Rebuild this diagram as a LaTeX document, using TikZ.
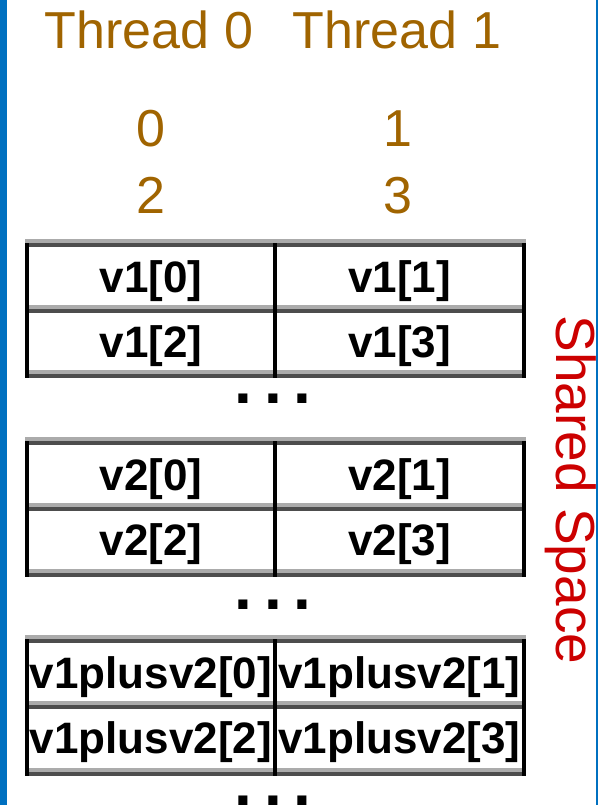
\documentclass[tikz,border=0pt]{standalone}
\usepackage{fontspec}
\setmainfont{Liberation Sans}

\definecolor{thread}{RGB}{160,100,0}
\definecolor{shared}{RGB}{204,0,0}
\definecolor{frame}{RGB}{0,112,192}
\definecolor{ruledark}{RGB}{77,77,77}
\definecolor{rulelight}{RGB}{171,171,171}

\begin{document}
\begin{tikzpicture}[x=1pt,y=-1pt,
  head/.style={text=thread,font=\fontsize{52}{60}\selectfont,anchor=base,inner sep=0pt},
  cell/.style={font=\bfseries\fontsize{44}{50}\selectfont,anchor=base,inner sep=0pt},
  more/.style={font=\bfseries\fontsize{64}{70}\selectfont,anchor=base,inner sep=0pt,
    text height=9pt,text depth=0pt},
  hrule/.style={line width=4pt,draw=ruledark,
    preaction={draw=rulelight,line width=4pt,transform canvas={yshift=4pt}}},
  vrule/.style={line width=4pt,draw=black}]
\useasboundingbox (0,0) rectangle (598,805);
\fill[frame] (0,0) rectangle (7,805);
\fill[frame] (595.5,0) rectangle (598,805);

% thread headers and the indices each thread handles
\node[head] (th0) at (149,49) {Thread 0};
\node[head] (th1) at (397,49) {Thread 1};
\node[head] (n0) at (151,147) {0};
\node[head] (n1) at (398,147) {1};
\node[head] (n2) at (151,213) {2};
\node[head] (n3) at (398,213) {3};

% v1
\draw[hrule] (25,245) -- (526,245) (25,311) -- (526,311) (25,376) -- (526,376);
\draw[vrule] (27,243) -- (27,378) (275,243) -- (275,378) (523.5,243) -- (523.5,378);
\node[cell] (a0) at (151,292) {v1[0]};
\node[cell] (a1) at (399.5,292) {v1[1]};
\node[cell] (a2) at (151,357) {v1[2]};
\node[cell] (a3) at (399.5,357) {v1[3]};
\node[more] (d1) at (273,403) {.\hspace{12pt}.\hspace{12pt}.};

% v2
\draw[hrule] (25,443) -- (526,443) (25,509) -- (526,509) (25,575) -- (526,575);
\draw[vrule] (27,441) -- (27,577) (275,441) -- (275,577) (523.5,441) -- (523.5,577);
\node[cell] (b0) at (151,490) {v2[0]};
\node[cell] (b1) at (399.5,490) {v2[1]};
\node[cell] (b2) at (151,555) {v2[2]};
\node[cell] (b3) at (399.5,555) {v2[3]};
\node[more] (d2) at (273,609) {.\hspace{12pt}.\hspace{12pt}.};

% v1plusv2
\draw[hrule] (25,641) -- (526,641) (25,707) -- (526,707) (25,774) -- (526,774);
\draw[vrule] (27,639) -- (27,776) (275,639) -- (275,776) (523.5,639) -- (523.5,776);
\node[cell] (s0) at (151,688) {v1plusv2[0]};
\node[cell] (s1) at (399.5,688) {v1plusv2[1]};
\node[cell] (s2) at (151,753) {v1plusv2[2]};
\node[cell] (s3) at (399.5,753) {v1plusv2[3]};
\node[more] (d3) at (273,805) {.\hspace{12pt}.\hspace{12pt}.};

\node[text=shared,font=\fontsize{55}{60}\selectfont,rotate=-90,anchor=base,inner sep=0pt]
  (sh) at (556,490) {Shared Space};
\end{tikzpicture}
\end{document}
